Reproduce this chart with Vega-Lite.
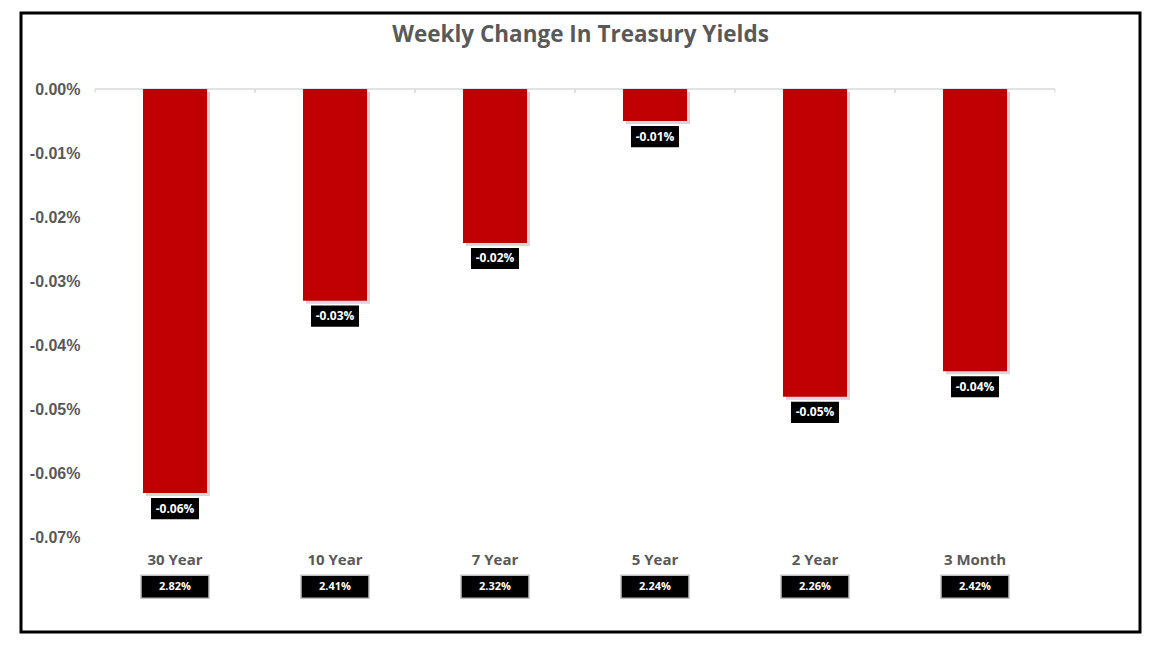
{
  "$schema": "https://vega.github.io/schema/vega-lite/v6.json",
  "width": 1119,
  "height": 619,
  "autosize": {"type": "none"},
  "padding": {"left": 21, "top": 13, "right": 21, "bottom": 23},
  "background": "white",
  "title": {
    "text": "Weekly Change In Treasury Yields",
    "font": "Open Sans",
    "fontSize": 22.5,
    "fontWeight": "bold",
    "color": "#595959",
    "anchor": "middle",
    "frame": "group",
    "baseline": "alphabetic",
    "offset": -51
  },
  "config": {"view": {"stroke": "black", "strokeWidth": 3}},
  "data": {
    "values": [
      {"maturity": "30 Year", "change": -0.063, "label": "-0.06%", "yield": "2.82%"},
      {"maturity": "10 Year", "change": -0.033, "label": "-0.03%", "yield": "2.41%"},
      {"maturity": "7 Year", "change": -0.024, "label": "-0.02%", "yield": "2.32%"},
      {"maturity": "5 Year", "change": -0.005, "label": "-0.01%", "yield": "2.24%"},
      {"maturity": "2 Year", "change": -0.048, "label": "-0.05%", "yield": "2.26%"},
      {"maturity": "3 Month", "change": -0.044, "label": "-0.04%", "yield": "2.42%"}
    ]
  },
  "encoding": {
    "x": {
      "field": "maturity",
      "type": "nominal",
      "sort": null,
      "title": null,
      "scale": {"paddingInner": 0, "paddingOuter": 0.4969, "align": 0.4654},
      "axis": {
        "orient": "bottom",
        "offset": -83,
        "domain": false,
        "ticks": false,
        "labelPadding": 3,
        "labelAngle": 0,
        "labelFont": "Open Sans",
        "labelFontSize": 15,
        "labelFontWeight": "bold",
        "labelColor": "#595959"
      }
    }
  },
  "layer": [
    {
      "mark": {"type": "rect", "fill": null, "stroke": "#d9d9d9", "strokeWidth": 1},
      "encoding": {
        "y": {"datum": 0, "type": "quantitative", "title": null},
        "y2": {"datum": 0}
      }
    },
    {
      "mark": {"type": "rule", "color": "#d9d9d9", "strokeWidth": 1},
      "encoding": {
        "x": {"field": "maturity", "type": "nominal", "sort": null, "bandPosition": 0, "title": null},
        "y": {"datum": 0, "type": "quantitative", "title": null},
        "y2": {"datum": -0.0006}
      }
    },
    {
      "mark": {"type": "rule", "color": "#d9d9d9", "strokeWidth": 1},
      "encoding": {
        "x": {"field": "maturity", "type": "nominal", "sort": null, "bandPosition": 1, "title": null},
        "y": {"datum": 0, "type": "quantitative", "title": null},
        "y2": {"datum": -0.0006}
      }
    },
    {
      "mark": {"type": "bar", "width": {"band": 0.4}, "color": "#8c8c8c", "opacity": 0.35, "xOffset": 3, "yOffset": 3},
      "encoding": {
        "y": {"field": "change", "type": "quantitative", "title": null}
      }
    },
    {
      "mark": {"type": "bar", "width": {"band": 0.4}, "color": "#C00000"},
      "encoding": {
        "y": {
          "field": "change",
          "type": "quantitative",
          "title": null,
          "scale": {"domain": [-0.08466, 0.01185], "nice": false, "zero": false},
          "axis": {
            "values": [0, -0.01, -0.02, -0.03, -0.04, -0.05, -0.06, -0.07],
            "labelExpr": "datum.value == 0 ? '0.00%' : '-' + format(-datum.value, '.2f') + '%'",
            "offset": -62,
            "labelPadding": 3,
            "ticks": false,
            "domain": false,
            "grid": false,
            "labelFont": "Liberation Sans",
            "labelFontSize": 16,
            "labelFontWeight": "bold",
            "labelColor": "#595959"
          }
        }
      }
    },
    {
      "mark": {"type": "point", "shape": "M-1,-0.44H1V0.44H-1Z", "size": 2304, "filled": true, "color": "black", "opacity": 1, "yOffset": 15.5},
      "encoding": {
        "y": {"field": "change", "type": "quantitative", "title": null}
      }
    },
    {
      "mark": {"type": "text", "yOffset": 15.5, "baseline": "middle", "align": "center", "font": "Open Sans", "fontSize": 12, "fontWeight": "bold", "color": "white"},
      "encoding": {
        "y": {"field": "change", "type": "quantitative", "title": null},
        "text": {"field": "label", "type": "nominal"}
      }
    },
    {
      "mark": {"type": "point", "shape": "M-1,-0.338H1V0.338H-1Z", "size": 4624, "filled": true, "fill": "black", "stroke": "#bfbfbf", "strokeWidth": 1.5, "opacity": 1},
      "encoding": {
        "y": {"datum": -0.0776, "type": "quantitative", "title": null}
      }
    },
    {
      "mark": {"type": "text", "baseline": "middle", "align": "center", "font": "Open Sans", "fontSize": 11, "fontWeight": "bold", "color": "white"},
      "encoding": {
        "y": {"datum": -0.0776, "type": "quantitative", "title": null},
        "text": {"field": "yield", "type": "nominal"}
      }
    }
  ]
}
